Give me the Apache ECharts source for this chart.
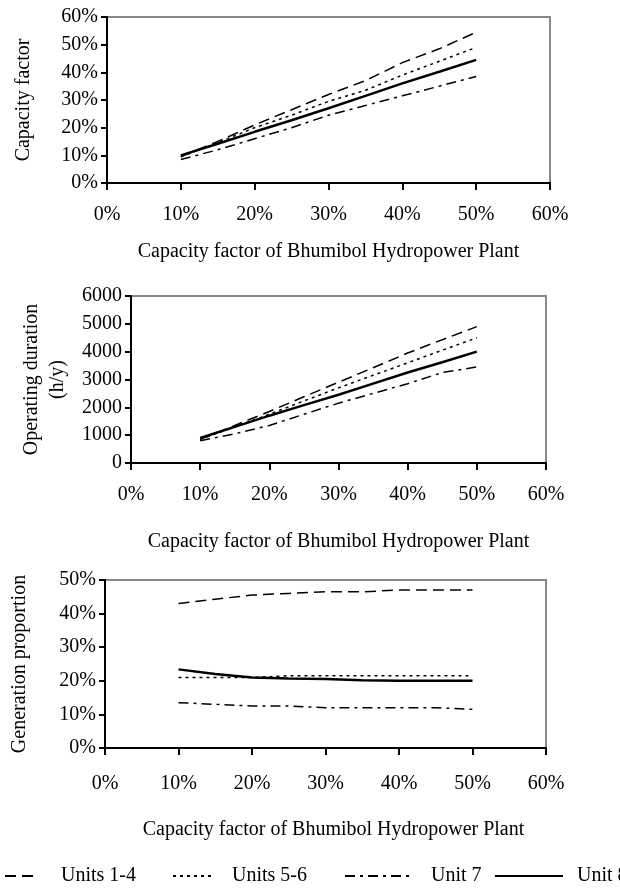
<!DOCTYPE html>
<html>
<head>
<meta charset="utf-8">
<script src="https://cdn.jsdelivr.net/npm/echarts@6/dist/echarts.min.js"></script>
<style>
  html, body { margin: 0; padding: 0; background: #fff; }
  #main { width: 620px; height: 893px; }
</style>
</head>
<body>
<div id="main"></div>
<script>
// x: capacity factor of Bhumibol (%)
var xVals = [10, 15, 20, 25, 30, 35, 40, 45, 50];
var xTicks = [0, 10, 20, 30, 40, 50, 60];

// chart 1 - capacity factor (%)
var cfUnits14 = [9.5, 15, 21, 26.5, 32, 37, 43.5, 48.5, 54.5];
var cfUnits56 = [9.5, 14.5, 20, 24.5, 29.5, 33.5, 39, 44, 49];
var cfUnit7   = [8.5, 12, 16, 20, 24.5, 28, 31.5, 35, 38.5];
var cfUnit8   = [10, 14.2, 18.5, 22.7, 27, 31.5, 36, 40.2, 44.5];

// chart 2 - operating duration (h/y)
var odUnits14 = [850, 1350, 1850, 2380, 2900, 3420, 3950, 4430, 4900];
var odUnits56 = [850, 1300, 1750, 2230, 2700, 3150, 3600, 4050, 4500];
var odUnit7   = [800, 1050, 1350, 1750, 2150, 2500, 2850, 3250, 3450];
var odUnit8   = [900, 1300, 1700, 2080, 2450, 2850, 3250, 3620, 4000];

// chart 3 - generation proportion (%)
var gpUnits14 = [43, 44.3, 45.5, 46, 46.5, 46.5, 47, 47, 47];
var gpUnits56 = [21, 21, 21, 21.5, 21.5, 21.5, 21.5, 21.5, 21.5];
var gpUnit7   = [13.5, 13, 12.5, 12.5, 12, 12, 12, 12, 11.5];
var gpUnit8   = [23.4, 22, 21, 20.7, 20.5, 20.2, 20, 20, 20];

var seriesNames = ['Units 1-4', 'Units 5-6', 'Unit 7', 'Unit 8'];

var FONT = '"Liberation Serif", "Times New Roman", serif';
var lineStyles = [
  {color: '#000', width: 1.5, type: [11, 6]},
  {color: '#000', width: 1.5, type: [3, 4]},
  {color: '#000', width: 1.5, type: [10, 5, 3, 5]},
  {color: '#000', width: 2.5, type: 'solid'}
];

function pairs(arr) {
  var out = [];
  for (var i = 0; i < xVals.length; i++) {
    out.push([xVals[i], arr[i]]);
  }
  return out;
}

function xAxisOf(idx, margin, gap, padLeft) {
  return {
    type: 'value', gridIndex: idx,
    min: xTicks[0], max: xTicks[xTicks.length - 1], interval: 10,
    name: 'Capacity factor of Bhumibol Hydropower Plant',
    nameLocation: 'middle', nameGap: gap,
    nameTextStyle: {fontFamily: FONT, fontSize: 20, color: '#000', padding: [0, 0, 0, padLeft]},
    axisLine: {show: true, onZero: false, lineStyle: {color: '#000', width: 2}},
    axisTick: {show: true, inside: false, length: 7, lineStyle: {color: '#000', width: 2}},
    axisLabel: {formatter: '{value}%', margin: margin, fontFamily: FONT, fontSize: 20, color: '#000'},
    splitLine: {show: false}
  };
}

function yAxisOf(idx, max, interval, fmt, name, gap, lh) {
  return {
    type: 'value', gridIndex: idx, min: 0, max: max, interval: interval,
    name: name, nameLocation: 'middle', nameGap: gap,
    nameTextStyle: {fontFamily: FONT, fontSize: 20, color: '#000', lineHeight: lh},
    axisLine: {show: true, lineStyle: {color: '#000', width: 2}},
    axisTick: {show: true, inside: false, length: 6, lineStyle: {color: '#000', width: 2}},
    axisLabel: {formatter: fmt, margin: 9, fontFamily: FONT, fontSize: 20, color: '#000'},
    splitLine: {show: false}
  };
}

var groups = [
  [cfUnits14, cfUnits56, cfUnit7, cfUnit8],
  [odUnits14, odUnits56, odUnit7, odUnit8],
  [gpUnits14, gpUnits56, gpUnit7, gpUnit8]
];
var series = [];
for (var g = 0; g < groups.length; g++) {
  for (var s = 0; s < seriesNames.length; s++) {
    series.push({
      name: seriesNames[s], type: 'line',
      xAxisIndex: g, yAxisIndex: g,
      symbol: 'none', silent: true, animation: false,
      lineStyle: lineStyles[s],
      itemStyle: {color: '#000'},
      data: pairs(groups[g][s])
    });
  }
}

// legend pieces laid out one by one like the original
var legendPos = [
  {left: 4, w: 32, pad: 19},
  {left: 172, w: 42, pad: 12},
  {left: 344, w: 66, pad: 15},
  {left: 494, w: 68, pad: 9}
];
var legends = [];
for (var k = 0; k < seriesNames.length; k++) {
  legends.push({
    data: [seriesNames[k]], left: legendPos[k].left, top: 866,
    padding: 0, itemWidth: legendPos[k].w, itemHeight: 20,
    selectedMode: false,
    itemStyle: {opacity: 0},
    textStyle: {fontFamily: FONT, fontSize: 20, color: '#000', padding: [0, 0, 0, legendPos[k].pad]}
  });
}

var chart = echarts.init(document.getElementById('main'), null, {renderer: 'canvas'});
chart.setOption({
  backgroundColor: '#fff',
  animation: false,
  legend: legends,
  grid: [
    {left: 107, top: 17, width: 443, height: 166, show: true, borderColor: '#888', borderWidth: 2},
    {left: 131, top: 296, width: 415, height: 167, show: true, borderColor: '#888', borderWidth: 2},
    {left: 98, top: 580, width: 448, height: 168, show: true, borderColor: '#888', borderWidth: 2}
  ],
  xAxis: [
    xAxisOf(0, 22, 59, 0),
    xAxisOf(1, 22, 69, 0),
    xAxisOf(2, 26, 72, 16)
  ],
  yAxis: [
    yAxisOf(0, 60, 10, '{value}%', 'Capacity factor', 71, 24),
    yAxisOf(1, 6000, 1000, function (v) { return String(v); }, 'Operating duration\n(h/y)', 57, 26),
    yAxisOf(2, 50, 10, '{value}%', 'Generation proportion', 73, 24)
  ],
  series: series
});
</script>
</body>
</html>
